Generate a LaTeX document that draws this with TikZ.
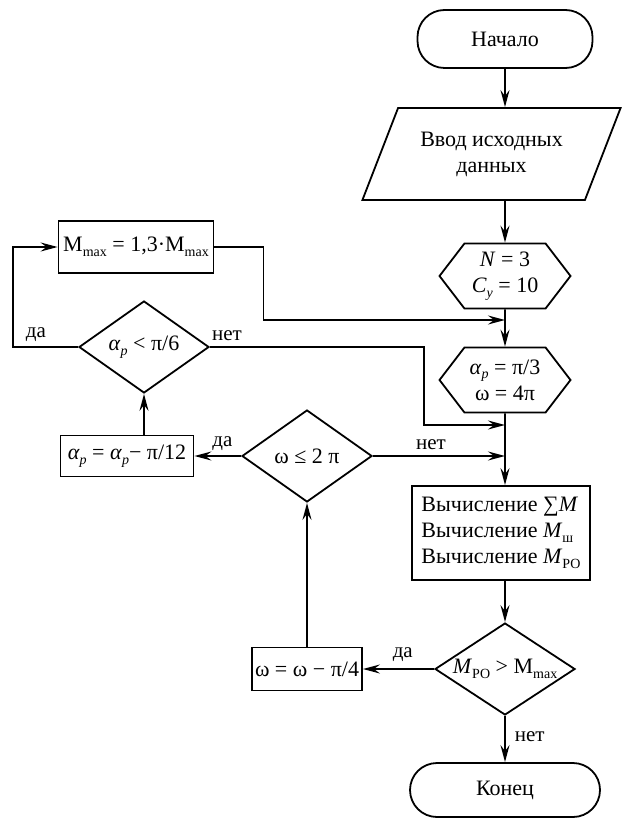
\documentclass[tikz,border=0pt]{standalone}
\usepackage{fontspec}
\setmainfont{Liberation Serif}
\usetikzlibrary{arrows.meta,shapes.geometric,shapes.symbols}
\newcommand\lowidx[1]{\raisebox{-0.45ex}{\fontsize{14}{14}\selectfont #1}}

\begin{document}
\begin{tikzpicture}[x=1pt, y=-1pt,
  every node/.style={font=\fontsize{22}{26}\selectfont},
  line width=1.8pt,
  term/.style={draw, rounded corners=27pt, minimum width=175pt, minimum height=58pt},
  io/.style={draw, trapezium, trapezium left angle=61, trapezium right angle=119,
             trapezium stretches=true, minimum width=259pt, minimum height=92pt, align=center},
  prep/.style={draw, signal, signal to=west and east, signal pointer angle=105,
               minimum width=131pt, minimum height=65pt, align=center, inner sep=0pt},
  proc/.style={draw, rectangle, inner sep=1pt},
  cond/.style={draw, diamond, aspect=1.5, inner sep=0pt, minimum width=130pt, minimum height=92pt},
  arr/.style={-{Stealth[length=17pt,width=9pt,inset=6pt]}},
  lbl/.style={font=\fontsize{21}{24}\selectfont, inner sep=1pt}
]
\useasboundingbox (0,0) rectangle (624,818);

\node[term] (start)  at (505,39)    {Начало};
\node[io]   (input)  at (491.5,154) {Ввод исходных\\данных};
\node[prep] (init)   at (505,276)   {\textit{N} = 3\\\textit{C}\lowidx{\textit{y}} = 10};
\node[prep] (setang) at (505,380)   {\textit{α}\lowidx{\textit{p}} = π/3\\ω = 4π};
\node[proc, minimum width=155pt, minimum height=52pt] (incmax) at (136,247)
  {M\lowidx{max} = 1,3·M\lowidx{max}};
\node[cond] (chkang) at (144,347)   {\textit{α}\lowidx{\textit{p}} < π/6};
\node[proc, minimum width=133pt, minimum height=41pt] (decang) at (127,456)
  {\textit{α}\lowidx{\textit{p}} = \textit{α}\lowidx{\textit{p}}− π/12};
\node[cond] (chkom)  at (307,456)   {ω ≤ 2 π};
\node[proc, minimum width=178pt, minimum height=94pt, align=left] (calc) at (501,533)
  {Вычисление ∑\textit{M}\\Вычисление \textit{M}\lowidx{ш}\\Вычисление \textit{M}\lowidx{РО}};
\node[cond, minimum width=140pt] (chkm) at (505,669)
  {\textit{M}\lowidx{РО} > M\lowidx{max}};
\node[proc, minimum width=110pt, minimum height=43pt] (decom) at (307,669) {ω = ω − π/4};
\node[term, minimum width=190pt, minimum height=54pt] (stop) at (505,790) {Конец};

\coordinate (j1) at (505,320);
\coordinate (j2) at (505,425);
\coordinate (j3) at (505,456);

% main line
\draw[arr] (start) -- (start |- input.north);
\draw[arr] (init |- input.south) -- (init);
\draw[arr] (init) -- (setang);
\draw[arr] (setang) -- (setang |- calc.north);
\draw[arr] (chkm |- calc.south) -- (chkm);
\draw[arr] (chkm) -- node[lbl, right=8pt, pos=0.45] (no3) {нет} (stop);

% loops
\draw[arr] (incmax.east) -- ++(49,0) |- (j1);
\draw[arr] (chkang.west) -- node[lbl, above=4pt, pos=0.65] (yes1) {да} ++(-65,0) |- (incmax.west);
\draw[arr] (chkang.east) -- node[lbl, above=4pt, pos=0.08] (no1) {нет} ++(214,0) |- (j2);
\draw[arr] (chkom.east) -- node[lbl, above=4pt, pos=0.44] (no2) {нет} (j3);
\draw[arr] (chkom.west) -- node[lbl, above=4pt, pos=0.4] (yes2) {да} (decang.east);
\draw[arr] (chkang |- decang.north) -- (chkang);
\draw[arr] (chkm.west) -- node[lbl, above=6pt, pos=0.44] (yes3) {да} (decom.east);
\draw[arr] (decom) -- (chkom);

\end{tikzpicture}
\end{document}
